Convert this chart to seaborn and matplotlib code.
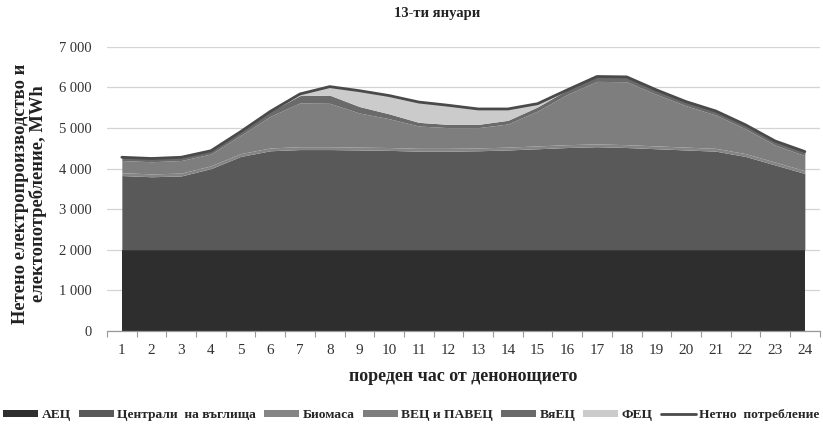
import numpy as np
import pandas as pd
import matplotlib
matplotlib.use("Agg")
import matplotlib.pyplot as plt
import seaborn as sns
from matplotlib.patches import Patch
from matplotlib.lines import Line2D
from matplotlib.ticker import FuncFormatter, MultipleLocator

# Данни по часове (MWh), отчетени от графиката
hours = list(range(1, 25))
aec = [2000] * 24
coal = [1830, 1800, 1820, 2000, 2300, 2440, 2470, 2470, 2460, 2450, 2430, 2430,
        2440, 2460, 2490, 2520, 2540, 2520, 2490, 2460, 2430, 2300, 2090, 1880]
biomass = [70] * 24
hydro = [300, 300, 310, 290, 450, 780, 1080, 1070, 840, 710, 550, 510,
         500, 570, 860, 1240, 1540, 1550, 1270, 1020, 820, 610, 420, 370]
wind = [80, 80, 80, 80, 90, 120, 180, 200, 160, 120, 90, 80,
        80, 90, 100, 110, 120, 120, 110, 100, 100, 100, 100, 100]
solar = [0, 0, 0, 0, 0, 0, 40, 210, 390, 450, 500, 470,
         380, 280, 80, 0, 0, 0, 0, 0, 0, 0, 0, 0]
net_load = [4280, 4250, 4280, 4440, 4910, 5410, 5840, 6020, 5920, 5800, 5640, 5560,
            5470, 5470, 5600, 5940, 6270, 6260, 5940, 5650, 5420, 5080, 4680, 4420]

labels = ["АЕЦ", "Централи  на въглища", "Биомаса", "ВЕЦ и ПАВЕЦ", "ВяЕЦ", "ФЕЦ"]
colors = ["#2e2e2e", "#595959", "#858585", "#7e7e7e", "#6a6a6a", "#cbcbcb"]
line_color = "#4a4a4a"

sns.set_theme(style="white")
plt.rcParams["font.family"] = ["Liberation Serif", "DejaVu Serif"]

df = pd.DataFrame({"час": hours, "потребление": net_load})

fig = plt.figure(figsize=(8.23, 4.26), dpi=100)
ax = fig.add_axes([0.130, 0.223, 0.866, 0.667])

ax.stackplot(hours, aec, coal, biomass, hydro, wind, solar,
             colors=colors, linewidth=0, zorder=2)
sns.lineplot(data=df, x="час", y="потребление", ax=ax, color=line_color,
             linewidth=2, zorder=3, legend=False)

ax.set_xlim(0.5, 24.5)
ax.set_ylim(0, 7000)
ax.yaxis.set_major_locator(MultipleLocator(1000))
ax.yaxis.set_major_formatter(FuncFormatter(lambda v, p: f"{int(v):,}".replace(",", " ")))
ax.set_xticks(hours)
ax.set_xticks(np.arange(0.5, 25, 1), minor=True)
ax.tick_params(axis="x", which="major", length=0, pad=9, labelsize=11, colors="#333333")
ax.tick_params(axis="x", which="minor", length=4, width=0.8, color="#999999", direction="out")
ax.tick_params(axis="y", length=0, pad=11, labelsize=10.5, colors="#333333")
ax.xaxis.set_ticks_position("bottom")

ax.grid(axis="y", color="#d4d4d4", linewidth=0.9, zorder=0)
ax.set_axisbelow(True)
for side in ["top", "right", "left"]:
    ax.spines[side].set_visible(False)
ax.spines["bottom"].set_color("#999999")
ax.spines["bottom"].set_linewidth(0.9)

fig.text(0.531, 1 - 14 / 426, "13-ти януари", ha="center", va="center",
         fontsize=10.5, fontweight="bold", color="#222222")
ax.set_xlabel("пореден час от денонощието", fontsize=13, fontweight="bold",
              color="#222222", labelpad=8)
ax.set_ylabel("Нетено електропроизводство и\nелектопотребление, MWh", fontsize=13.3,
              fontweight="bold", color="#222222", linespacing=1.0)
ax.yaxis.set_label_coords(-0.084, 0.482)

handles = [Patch(facecolor=c, edgecolor="none", label=l) for c, l in zip(colors, labels)]
handles.append(Line2D([], [], color=line_color, linewidth=2, label="Нетно  потребление"))
fig.legend(handles=handles, loc="lower center", bbox_to_anchor=(0.5, -0.017), ncol=7,
           frameon=False, handlelength=2.6, handleheight=0.45,
           handletextpad=0.25, columnspacing=0.6,
           prop={"weight": "bold", "size": 9.7})

fig.savefig("out.png", dpi=100)
